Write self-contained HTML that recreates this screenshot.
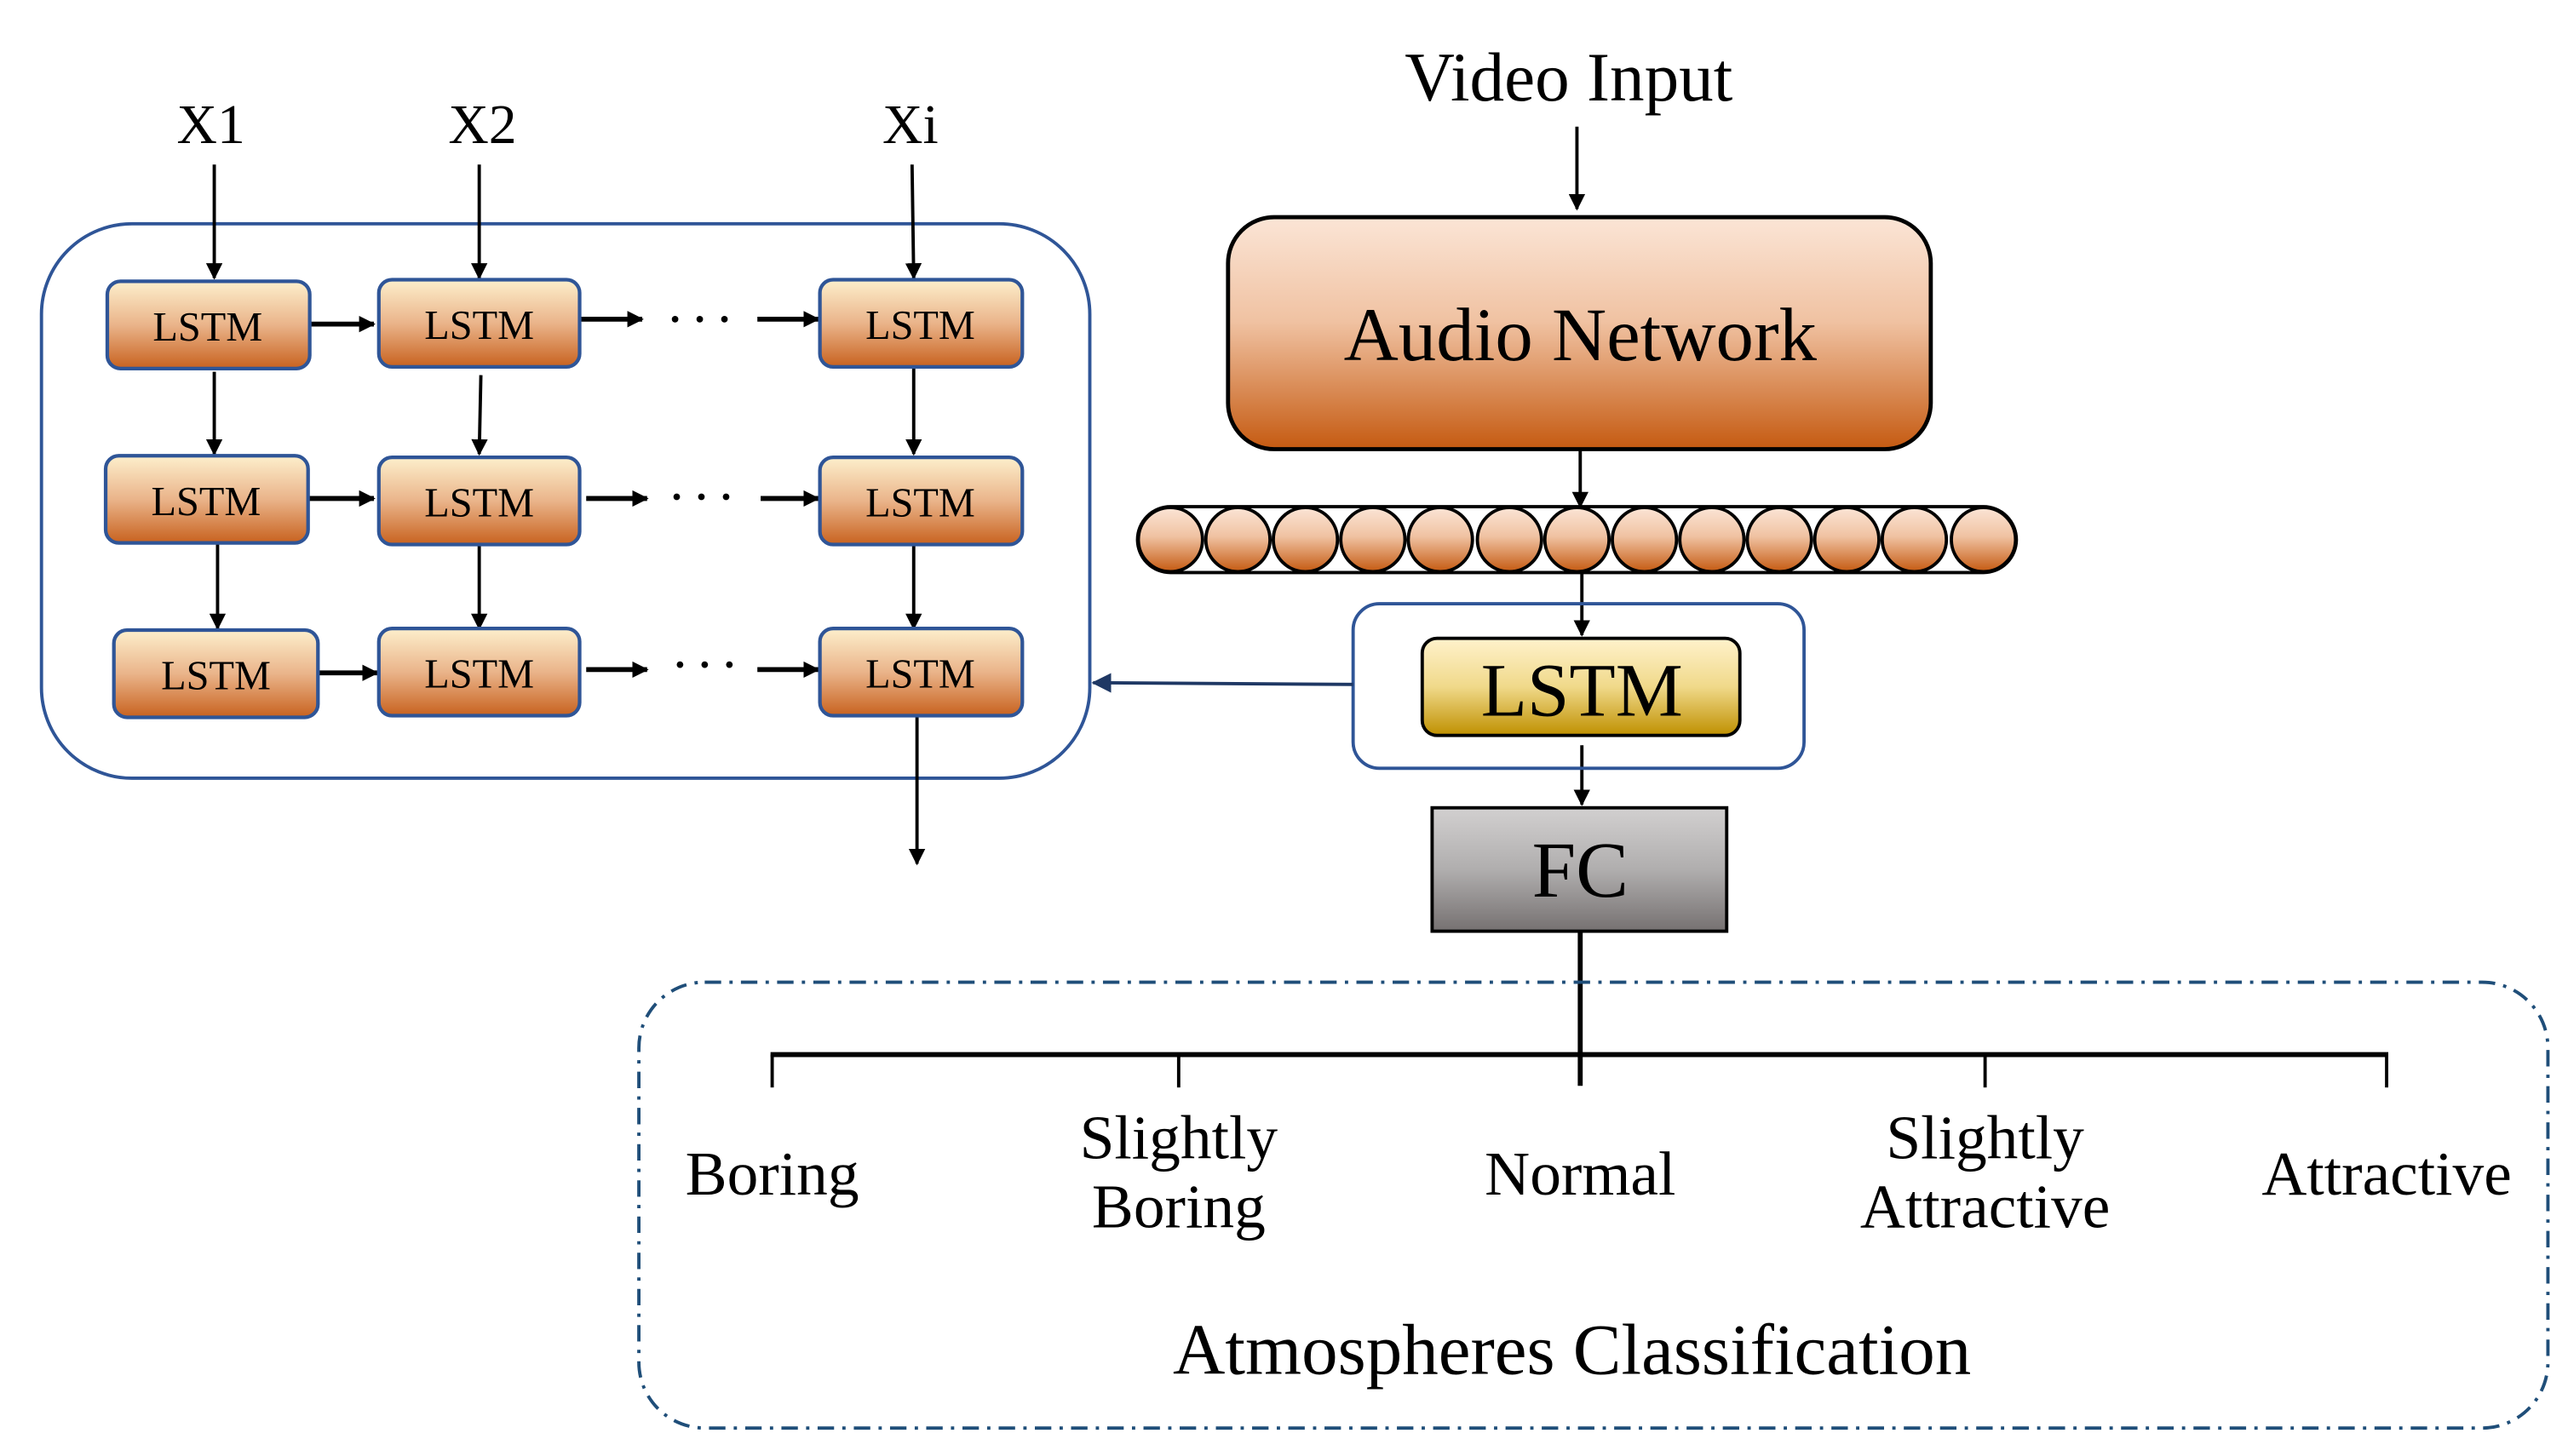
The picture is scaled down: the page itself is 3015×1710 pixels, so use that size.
<!DOCTYPE html>
<html><head><meta charset="utf-8"><style>html,body{margin:0;padding:0;background:#fff}svg{display:block}svg text{font-family:"Liberation Serif","Times New Roman",serif}</style></head><body>
<svg width="3015" height="1710" viewBox="0 0 1560 885" xmlns="http://www.w3.org/2000/svg" style="font-family:'Liberation Serif',serif">
<defs>
<linearGradient id="og" x1="0" y1="0" x2="0" y2="1"><stop offset="0" stop-color="#fdefcc"/><stop offset="0.5" stop-color="#eab48a"/><stop offset="1" stop-color="#c8621f"/></linearGradient>
<linearGradient id="ag" x1="0" y1="0" x2="0" y2="1"><stop offset="0" stop-color="#fbe5d6"/><stop offset="0.45" stop-color="#f0c2a2"/><stop offset="1" stop-color="#c55a11"/></linearGradient>
<linearGradient id="yg" x1="0" y1="0" x2="0" y2="1"><stop offset="0" stop-color="#fff2cc"/><stop offset="0.5" stop-color="#f0d98a"/><stop offset="1" stop-color="#bf9000"/></linearGradient>
<linearGradient id="gg" x1="0" y1="0" x2="0" y2="1"><stop offset="0" stop-color="#d2d0d0"/><stop offset="0.5" stop-color="#b0aeae"/><stop offset="1" stop-color="#767171"/></linearGradient>
<marker id="ah" markerWidth="10" markerHeight="10" refX="9" refY="5" orient="auto" markerUnits="userSpaceOnUse"><path d="M0,0 L10,5 L0,10 z" fill="#000"/></marker>
<marker id="bh" markerWidth="12" markerHeight="12" refX="11" refY="6" orient="auto" markerUnits="userSpaceOnUse"><path d="M0,0 L12,6 L0,12 z" fill="#1f3864"/></marker>
</defs>
<g font-size="34" text-anchor="middle">
<text x="128" y="87">X1</text><text x="293" y="87">X2</text><text x="553" y="87">Xi</text>
<text x="953" y="61" font-size="42">Video Input</text>
</g>
<rect x="25" y="136" width="637" height="337" rx="55" fill="none" stroke="#2f5597" stroke-width="2"/>
<g stroke="#000" stroke-width="2" marker-end="url(#ah)">
<line x1="130" y1="100" x2="130" y2="169"/><line x1="291" y1="100" x2="291" y2="169"/><line x1="554" y1="100" x2="555" y2="169"/>
<line x1="130" y1="226" x2="130" y2="276"/><line x1="292" y1="228" x2="291" y2="276"/><line x1="555" y1="224" x2="555" y2="276"/>
<line x1="132" y1="330" x2="132" y2="382"/><line x1="291" y1="330" x2="291" y2="382"/><line x1="555" y1="330" x2="555" y2="382"/>
<line x1="557" y1="436" x2="557" y2="525"/>
<line x1="188" y1="197" x2="227" y2="197" stroke-width="3"/><line x1="352" y1="194" x2="390" y2="194" stroke-width="3"/><line x1="460" y1="194" x2="497" y2="194" stroke-width="3"/>
<line x1="187" y1="303" x2="227" y2="303" stroke-width="3"/><line x1="356" y1="303" x2="393" y2="303" stroke-width="3"/><line x1="462" y1="303" x2="497" y2="303" stroke-width="3"/>
<line x1="193" y1="409" x2="229" y2="409" stroke-width="3"/><line x1="356" y1="407" x2="393" y2="407" stroke-width="3"/><line x1="460" y1="407" x2="497" y2="407" stroke-width="3"/>
<line x1="958" y1="77" x2="958" y2="127"/><line x1="960" y1="273" x2="960" y2="308"/><line x1="961" y1="348" x2="961" y2="386"/><line x1="961" y1="453" x2="961" y2="489"/>
</g>
<g fill="#000"><circle cx="410" cy="194" r="2"/><circle cx="425" cy="194" r="2"/><circle cx="440" cy="194" r="2"/>
<circle cx="411" cy="302" r="2"/><circle cx="426" cy="302" r="2"/><circle cx="441" cy="302" r="2"/>
<circle cx="413" cy="404" r="2"/><circle cx="428" cy="404" r="2"/><circle cx="443" cy="404" r="2"/></g>
<g stroke="#2f5597" stroke-width="2.2" fill="url(#og)">
<rect x="65" y="171" width="123" height="53" rx="8"/><rect x="230" y="170" width="122" height="53" rx="8"/><rect x="498" y="170" width="123" height="53" rx="8"/>
<rect x="64" y="277" width="123" height="53" rx="8"/><rect x="230" y="278" width="122" height="53" rx="8"/><rect x="498" y="278" width="123" height="53" rx="8"/>
<rect x="69" y="383" width="124" height="53" rx="8"/><rect x="230" y="382" width="122" height="53" rx="8"/><rect x="498" y="382" width="123" height="53" rx="8"/>
</g>
<g font-size="25" text-anchor="middle">
<text x="126" y="207">LSTM</text><text x="291" y="206">LSTM</text><text x="559" y="206">LSTM</text>
<text x="125" y="313">LSTM</text><text x="291" y="314">LSTM</text><text x="559" y="314">LSTM</text>
<text x="131" y="419">LSTM</text><text x="291" y="418">LSTM</text><text x="559" y="418">LSTM</text>
</g>
<rect x="746" y="132" width="427" height="141" rx="28" fill="url(#ag)" stroke="#000" stroke-width="2.5"/>
<text x="960" y="219" font-size="46" text-anchor="middle">Audio Network</text>
<rect x="691" y="308" width="534" height="40" rx="20" fill="#fff" stroke="#000" stroke-width="2"/>
<g fill="url(#ag)" stroke="#000" stroke-width="2">
<circle cx="711" cy="328" r="19.5"/><circle cx="752" cy="328" r="19.5"/><circle cx="793" cy="328" r="19.5"/><circle cx="834" cy="328" r="19.5"/><circle cx="875" cy="328" r="19.5"/><circle cx="917" cy="328" r="19.5"/><circle cx="958" cy="328" r="19.5"/><circle cx="999" cy="328" r="19.5"/><circle cx="1040" cy="328" r="19.5"/><circle cx="1081" cy="328" r="19.5"/><circle cx="1122" cy="328" r="19.5"/><circle cx="1163" cy="328" r="19.5"/><circle cx="1205" cy="328" r="19.5"/>
</g>
<rect x="822" y="367" width="274" height="100" rx="16" fill="none" stroke="#2f5597" stroke-width="2"/>
<line x1="822" y1="416" x2="664" y2="415" stroke="#1f3864" stroke-width="2" marker-end="url(#bh)"/>
<rect x="864" y="388" width="193" height="59" rx="9" fill="url(#yg)" stroke="#000" stroke-width="2"/>
<text x="961" y="435" font-size="46" text-anchor="middle">LSTM</text>
<rect x="870" y="491" width="179" height="75" fill="url(#gg)" stroke="#000" stroke-width="2"/>
<text x="960" y="545" font-size="48" text-anchor="middle">FC</text>
<line x1="960" y1="566" x2="960" y2="660" stroke="#000" stroke-width="3"/>
<rect x="388" y="597" width="1160" height="271" rx="40" fill="none" stroke="#1f4e79" stroke-width="2" stroke-dasharray="10,5,2,5"/>
<line x1="468" y1="641" x2="1451" y2="641" stroke="#000" stroke-width="3"/>
<g stroke="#000" stroke-width="2"><line x1="469" y1="641" x2="469" y2="661"/><line x1="716" y1="641" x2="716" y2="661"/><line x1="1206" y1="641" x2="1206" y2="661"/><line x1="1450" y1="641" x2="1450" y2="661"/></g>
<g font-size="38" text-anchor="middle">
<text x="469" y="726">Boring</text>
<text x="716" y="704">Slightly</text><text x="716" y="746">Boring</text>
<text x="960" y="726">Normal</text>
<text x="1206" y="704">Slightly</text><text x="1206" y="746">Attractive</text>
<text x="1450" y="726">Attractive</text>
<text x="955" y="835" font-size="44">Atmospheres Classification</text>
</g>
</svg>
</body></html>
